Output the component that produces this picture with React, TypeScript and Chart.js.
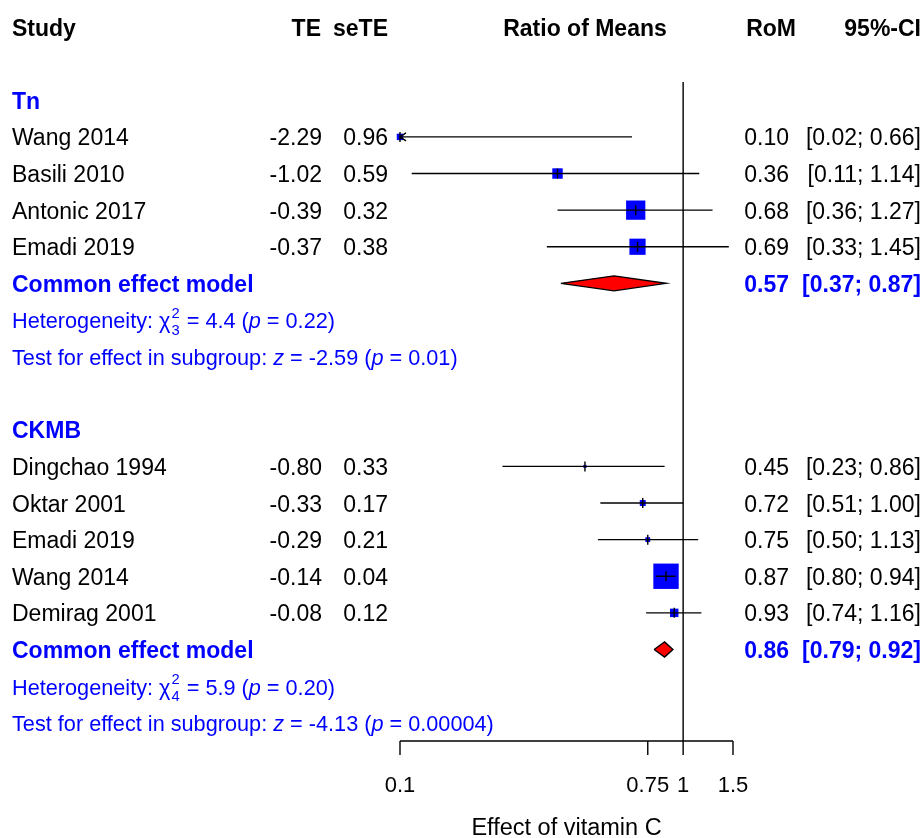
import React, { useEffect, useRef } from "react";
import { Chart, registerables } from "chart.js";
Chart.register(...registerables);

// ---- axis ----
const xTicks = [0.1, 0.75, 1, 1.5];
const xTickLabels = ["0.1", "0.75", "1", "1.5"];
const xMin = 0.1;
const xMax = 1.5;
const xTitle = "Effect of vitamin C";

// ---- header ----
const headStudy = "Study";
const headTE = "TE";
const headSeTE = "seTE";
const headMeasure = "Ratio of Means";
const headRoM = "RoM";
const headCI = "95%-CI";

// ---- subgroup Tn ----
const tnName = "Tn";
const tnStudies = ["Wang 2014", "Basili 2010", "Antonic 2017", "Emadi 2019"];
const tnTE = ["-2.29", "-1.02", "-0.39", "-0.37"];
const tnSeTE = ["0.96", "0.59", "0.32", "0.38"];
const tnRoM = [0.1, 0.36, 0.68, 0.69];
const tnLower = [0.02, 0.11, 0.36, 0.33];
const tnUpper = [0.66, 1.14, 1.27, 1.45];
const tnWeight = [5.3, 13.9, 47.3, 33.5];
const tnPooled = [0.57, 0.37, 0.87];
const tnHet = ["4.4", "3", "0.22"]; // chi2, df, p
const tnTest = ["-2.59", "0.01"]; // z, p

// ---- subgroup CKMB ----
const ckName = "CKMB";
const ckStudies = ["Dingchao 1994", "Oktar 2001", "Emadi 2019", "Wang 2014", "Demirag 2001"];
const ckTE = ["-0.80", "-0.33", "-0.29", "-0.14", "-0.08"];
const ckSeTE = ["0.33", "0.17", "0.21", "0.04", "0.12"];
const ckRoM = [0.45, 0.72, 0.75, 0.87, 0.93];
const ckLower = [0.23, 0.51, 0.5, 0.8, 0.74];
const ckUpper = [0.86, 1.0, 1.13, 0.94, 1.16];
const ckWeight = [1.2, 4.5, 3.0, 82.1, 9.1];
const ckPooled = [0.86, 0.79, 0.92];
const ckHet = ["5.9", "4", "0.20"];
const ckTest = ["-4.13", "0.00004"];

const pooledLabel = "Common effect model";

const FONT = '"Liberation Sans", Arial, Helvetica, sans-serif';
const BLUE = "#0000FF";

type Part = { t: string; it?: boolean; sup?: string; sub?: string };

export default function App() {
  const ref = useRef<HTMLCanvasElement>(null);

  useEffect(() => {
    if (!ref.current) return;

    const groups = [
      { name: tnName, studies: tnStudies, te: tnTE, se: tnSeTE, rom: tnRoM, lo: tnLower, hi: tnUpper, w: tnWeight, pooled: tnPooled, het: tnHet, test: tnTest, start: 2 },
      { name: ckName, studies: ckStudies, te: ckTE, se: ckSeTE, rom: ckRoM, lo: ckLower, hi: ckUpper, w: ckWeight, pooled: ckPooled, het: ckHet, test: ckTest, start: 11 },
    ];

    const datasets: any[] = [];
    const sqPts: any[] = [];
    const sqRad: number[] = [];
    const arrows: { row: number }[] = [];

    groups.forEach((g) => {
      g.studies.forEach((_, i) => {
        const row = g.start + 1 + i;
        datasets.push({
          data: [{ x: g.lo[i], y: row }, { x: g.hi[i], y: row }],
          showLine: true,
          borderColor: "#000",
          borderWidth: 1.4,
          pointRadius: 0,
          clip: 0,
          order: 1,
        });
        if (g.lo[i] < xMin) arrows.push({ row });
        sqPts.push({ x: g.rom[i], y: row });
        const side = 2.8 * Math.sqrt(g.w[i]);
        sqRad.push(side / Math.SQRT2);
      });
      const prow = g.start + 1 + g.studies.length;
      const h = 0.205;
      datasets.push({
        data: [
          { x: g.pooled[1], y: prow },
          { x: g.pooled[0], y: prow - h },
          { x: g.pooled[2], y: prow },
          { x: g.pooled[0], y: prow + h },
          { x: g.pooled[1], y: prow },
        ],
        showLine: true,
        fill: "shape",
        backgroundColor: "#FF0000",
        borderColor: "#000",
        borderWidth: 1.4,
        pointRadius: 0,
        tension: 0,
        order: 2,
      });
    });

    datasets.push({
      data: sqPts,
      pointStyle: "line",
      rotation: 90,
      pointRadius: 5,
      borderColor: "#000",
      borderWidth: 1.4,
      backgroundColor: "#000",
      clip: false,
      order: 0,
    });
    datasets.push({
      data: sqPts,
      pointStyle: "rect",
      pointRadius: sqRad,
      backgroundColor: BLUE,
      borderColor: BLUE,
      borderWidth: 0,
      clip: false,
      order: 5,
    });
    datasets.push({
      data: [{ x: 1, y: 1.5 }, { x: 1, y: 19.5 }],
      showLine: true,
      borderColor: "#000",
      borderWidth: 1.4,
      pointRadius: 0,
      clip: false,
      order: 0,
    });

    const textPlugin = {
      id: "forestText",
      afterDraw(chart: any) {
        const ctx = chart.ctx as CanvasRenderingContext2D;
        const xs = chart.scales.x;
        const ys = chart.scales.y;
        const ca = chart.chartArea;
        const Y = (r: number) => ys.getPixelForValue(r);
        const BO = 8.5;
        ctx.save();
        ctx.textBaseline = "alphabetic";

        const txt = (s: string, x: number, row: number, align: CanvasTextAlign, bold = false, color = "#000", size = 23) => {
          ctx.font = `${bold ? "bold " : ""}${size}px ${FONT}`;
          ctx.fillStyle = color;
          ctx.textAlign = align;
          ctx.fillText(s, x, Y(row) + BO);
        };
        const rich = (parts: Part[], x: number, row: number, size: number, color: string) => {
          ctx.textAlign = "left";
          ctx.fillStyle = color;
          const y = Y(row) + BO;
          let cx = x;
          for (const p of parts) {
            ctx.font = `${p.it ? "italic " : ""}${size}px ${FONT}`;
            ctx.fillText(p.t, cx, y);
            cx += ctx.measureText(p.t).width;
            if (p.sup || p.sub) {
              const s = size * 0.68;
              ctx.font = `${s}px ${FONT}`;
              let w = 0;
              if (p.sup) {
                ctx.fillText(p.sup, cx + 1, y - size * 0.5);
                w = Math.max(w, ctx.measureText(p.sup).width);
              }
              if (p.sub) {
                ctx.fillText(p.sub, cx + 1, y + size * 0.3);
                w = Math.max(w, ctx.measureText(p.sub).width);
              }
              cx += w + 2;
            }
          }
        };

        txt(headStudy, 12, 0, "left", true);
        txt(headTE, 321, 0, "right", true);
        txt(headSeTE, 388, 0, "right", true);
        txt(headMeasure, 585, 0, "center", true);
        txt(headRoM, 796, 0, "right", true);
        txt(headCI, 921, 0, "right", true);

        groups.forEach((g) => {
          txt(g.name, 12, g.start, "left", true, BLUE);
          g.studies.forEach((s, i) => {
            const row = g.start + 1 + i;
            txt(s, 12, row, "left");
            txt(g.te[i], 322, row, "right");
            txt(g.se[i], 388, row, "right");
            txt(g.rom[i].toFixed(2), 789, row, "right");
            txt(`[${g.lo[i].toFixed(2)}; ${g.hi[i].toFixed(2)}]`, 921, row, "right");
          });
          const prow = g.start + 1 + g.studies.length;
          txt(pooledLabel, 12, prow, "left", true, BLUE);
          txt(g.pooled[0].toFixed(2), 789, prow, "right", true, BLUE);
          txt(`[${g.pooled[1].toFixed(2)}; ${g.pooled[2].toFixed(2)}]`, 921, prow, "right", true, BLUE);
          rich(
            [
              { t: "Heterogeneity: " },
              { t: "\u03C7", sup: "2", sub: g.het[1] },
              { t: ` = ${g.het[0]} (` },
              { t: "p", it: true },
              { t: ` = ${g.het[2]})` },
            ],
            12, prow + 1, 21.7, BLUE
          );
          rich(
            [
              { t: "Test for effect in subgroup: " },
              { t: "z", it: true },
              { t: ` = ${g.test[0]} (` },
              { t: "p", it: true },
              { t: ` = ${g.test[1]})` },
            ],
            12, prow + 2, 21.7, BLUE
          );
        });

        ctx.strokeStyle = "#000";
        ctx.lineWidth = 1.4;
        arrows.forEach((a) => {
          const y = Y(a.row);
          ctx.beginPath();
          ctx.moveTo(ca.left + 6, y - 4);
          ctx.lineTo(ca.left, y);
          ctx.lineTo(ca.left + 6, y + 4);
          ctx.stroke();
        });

        const yb = ca.bottom;
        ctx.beginPath();
        ctx.moveTo(xs.getPixelForValue(xMin), yb);
        ctx.lineTo(xs.getPixelForValue(xMax), yb);
        xTicks.forEach((t) => {
          const px = xs.getPixelForValue(t);
          ctx.moveTo(px, yb);
          ctx.lineTo(px, yb + 14);
        });
        ctx.stroke();
        ctx.fillStyle = "#000";
        ctx.font = `22px ${FONT}`;
        ctx.textAlign = "center";
        xTicks.forEach((t, i) => {
          ctx.fillText(xTickLabels[i], xs.getPixelForValue(t), yb + 51);
        });
        ctx.font = `23.5px ${FONT}`;
        ctx.fillText(xTitle, (ca.left + ca.right) / 2, yb + 94);
        ctx.restore();
      },
    };

    const chart = new Chart(ref.current, {
      type: "scatter",
      data: { datasets },
      options: {
        animation: false,
        responsive: false,
        maintainAspectRatio: false,
        layout: { padding: { left: 400, right: 191, top: 82, bottom: 97 } },
        scales: {
          x: { type: "logarithmic", min: xMin, max: xMax, display: false },
          y: { type: "linear", min: 1.5, max: 19.5, reverse: true, display: false },
        },
        plugins: { legend: { display: false }, tooltip: { enabled: false } },
      },
      plugins: [textPlugin],
    } as any);

    return () => chart.destroy();
  }, []);

  return (
    <div style={{ position: "fixed", left: 0, top: 0, width: 924, height: 838, background: "#fff" }}>
      <canvas ref={ref} width={924} height={838} style={{ width: 924, height: 838, display: "block" }} />
    </div>
  );
}
